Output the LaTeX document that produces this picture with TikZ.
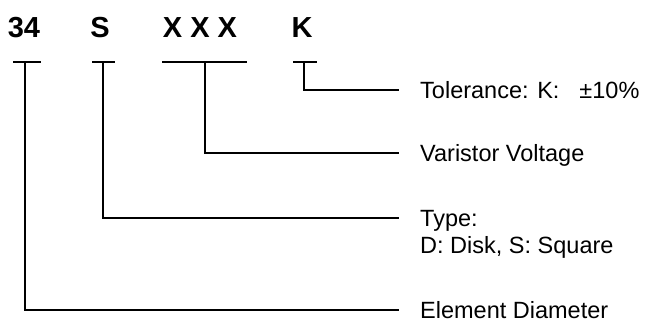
\documentclass[tikz,border=0pt]{standalone}
\usepackage{fontspec}
\setmainfont{Liberation Sans}
\begin{document}
\begin{tikzpicture}[x=1pt,y=-1pt,
    code/.style={font=\fontsize{29}{29}\selectfont\bfseries, inner sep=0pt, anchor=base},
    desc/.style={font=\fontsize{23.5}{27}\selectfont, inner sep=0pt, anchor=west,
                 text height=16.8pt, text depth=0pt},
    wire/.style={line width=1.4pt, line cap=rect},
    bar/.style={line width=1.4pt}]
  \useasboundingbox (0,0) rectangle (646,322);

  % code letters
  \node[code] (n34) at (24,37) {34};
  \node[code] (nS)  at (100,37) {S};
  \node[code] (nX)  at (200,37) {X X X};
  \node[code] (nK)  at (302,37) {K};

  % bars under each field and their drop points
  \draw[bar] (13,62) -- (41,62);
  \draw[bar] (92,62) -- (115,62);
  \draw[bar] (162,62) -- (247,62);
  \draw[bar] (293,62) -- (317,62);
  \coordinate (d34) at (25,62);
  \coordinate (dS)  at (103,62);
  \coordinate (dX)  at (205,62);
  \coordinate (dK)  at (304,62);

  % descriptions
  \node[desc] (tol)  at (420,90)  {Tolerance: K:\hspace{0.85em}±10\%};
  \node[desc] (volt) at (420,153) {Varistor Voltage};
  \node[desc] (type) at (420,218) {Type:};
  \node[desc, anchor=base west] (shape) at ([yshift=-27pt]type.base west) {D: Disk, S: Square};
  \node[desc] (diam) at (420,310) {Element Diameter};

  % leader lines
  \draw[wire] (dK)  |- ([xshift=-22pt]tol.west);
  \draw[wire] (dX)  |- ([xshift=-22pt]volt.west);
  \draw[wire] (dS)  |- ([xshift=-22pt]type.west);
  \draw[wire] (d34) |- ([xshift=-22pt]diam.west);
\end{tikzpicture}
\end{document}
